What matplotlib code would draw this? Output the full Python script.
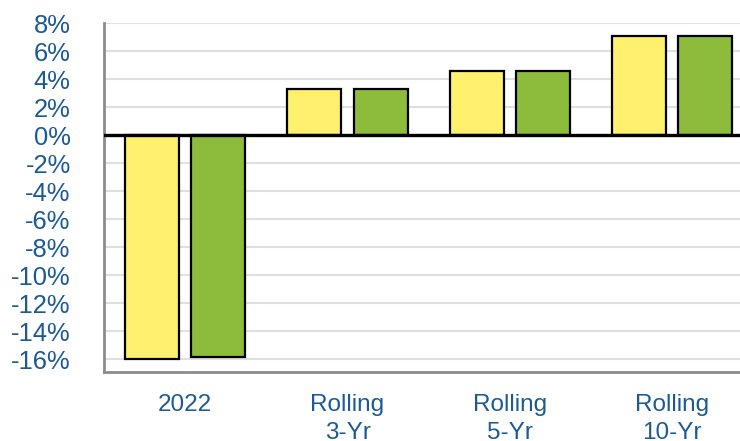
import matplotlib.pyplot as plt
import numpy as np

plt.rcParams['font.family'] = ['Liberation Sans', 'DejaVu Sans']

############################## Datos ##############################
categories = ['2022', 'Rolling\n3-Yr', 'Rolling\n5-Yr', 'Rolling\n10-Yr']
serie_a = [-16.0, 3.3, 4.6, 7.1]   # amarillo
serie_b = [-15.8, 3.3, 4.6, 7.1]   # verde
yticks = np.arange(-16, 9, 2)

txt_color = '#1B5A94'
amarillo = '#FFF06E'
verde = '#8DBB3B'

############################## Figura ##############################
fig = plt.figure(figsize=(7.4, 4.41), dpi=100)
ax = fig.add_axes([0.1405, 0.1565, 0.8595, 0.7913])

x = np.arange(len(categories))
w = 0.333
off = 0.204
ax.bar(x - off, serie_a, w, color=amarillo, edgecolor='black', linewidth=1.6, zorder=3)
ax.bar(x + off, serie_b, w, color=verde, edgecolor='black', linewidth=1.6, zorder=3)

ax.axhline(0, color='black', lw=2.4, zorder=4)

ax.set_ylim(-16.9, 8)
ax.set_xlim(-0.5, 3.417)
ax.set_yticks(yticks)
ax.set_yticklabels([f'{v}%' for v in yticks])
ax.set_xticks(x)
ax.set_xticklabels(categories, linespacing=1.32)

ax.grid(axis='y', color='#E0E0E0', lw=1.5, zorder=0)
ax.set_axisbelow(True)

for s in ['top', 'right']:
    ax.spines[s].set_visible(False)
for s in ['left', 'bottom']:
    ax.spines[s].set_color('#8C8C8C')
    ax.spines[s].set_linewidth(2)

ax.tick_params(axis='y', length=0, pad=24, labelsize=18.4, labelcolor=txt_color)
ax.tick_params(axis='x', length=0, pad=16, labelsize=17.5, labelcolor=txt_color)

fig.savefig('out.png', dpi=100)
